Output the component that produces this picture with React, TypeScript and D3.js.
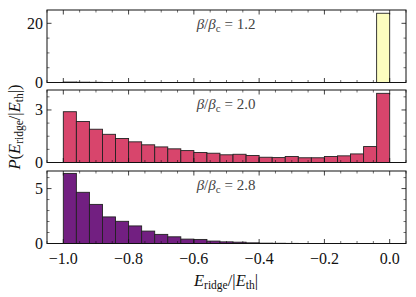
import React from 'react';
import * as d3 from 'd3';

// histogram bin edges of E_ridge/|E_th|
const BIN_EDGES = [
  -1.0, -0.96, -0.92, -0.88, -0.84, -0.8, -0.76, -0.72, -0.68, -0.64, -0.6, -0.56, -0.52,
  -0.48, -0.44, -0.4, -0.36, -0.32, -0.28, -0.24, -0.2, -0.16, -0.12, -0.08, -0.04, 0.0,
];

const P_12 = [
  0.15, 0.1, 0.06, 0, 0, 0, 0, 0, 0, 0, 0, 0, 0, 0, 0, 0, 0, 0, 0, 0, 0, 0, 0, 0, 23.4,
];
const P_20 = [
  2.9, 2.34, 1.9, 1.61, 1.37, 1.18, 1.01, 0.89, 0.78, 0.68, 0.57, 0.53, 0.44, 0.47, 0.4,
  0.3, 0.28, 0.34, 0.27, 0.27, 0.34, 0.38, 0.49, 0.91, 3.95,
];
const P_28 = [
  6.38, 4.66, 3.56, 2.42, 2.02, 1.6, 1.13, 0.83, 0.61, 0.4, 0.37, 0.22, 0.15, 0.12, 0.06,
  0.03, 0.02, 0.01, 0, 0, 0, 0, 0, 0, 0,
];

const X_TICKS = [-1.0, -0.8, -0.6, -0.4, -0.2, 0.0];

const PANELS = [
  { label: '1.2', values: P_12, ymax: 24.5, major: [0, 20], minorStep: 5, color: '#fcfdbf' },
  { label: '2.0', values: P_20, ymax: 4.14, major: [0, 3], minorStep: 0.75, color: '#d8456c' },
  { label: '2.8', values: P_28, ymax: 6.6, major: [0, 5], minorStep: 1, color: '#721f81' },
];

const W = 416;
const H = 297;
const LEFT = 47;
const RIGHT = 406;
const TOPS = [10, 90, 171];
const PANEL_H = 72.5;
const FONT = "'Liberation Serif', 'DejaVu Serif', serif";

const x = d3.scaleLinear().domain([-1.05, 0.05]).range([LEFT, RIGHT]);

function Panel({ p, top, last }: { p: (typeof PANELS)[number]; top: number; last: boolean }) {
  const bottom = top + PANEL_H;
  const y = d3.scaleLinear().domain([0, p.ymax]).range([bottom, top]);
  const minorY = d3.range(0, p.ymax, p.minorStep).filter((v) => !p.major.some((m) => Math.abs(m - v) < 1e-6));
  const minorX = d3.range(-1.05, 0.051, 0.05).filter((v) => !X_TICKS.some((m) => Math.abs(m - v) < 1e-6));
  return (
    <g>
      {p.values.map((v, i) =>
        v > 0 ? (
          <rect
            key={i}
            x={x(BIN_EDGES[i])}
            width={x(BIN_EDGES[i + 1]) - x(BIN_EDGES[i])}
            y={y(v)}
            height={bottom - y(v)}
            fill={p.color}
            stroke="#222"
            strokeWidth={0.9}
          />
        ) : null,
      )}
      <rect x={LEFT} y={top} width={RIGHT - LEFT} height={PANEL_H} fill="none" stroke="#111" strokeWidth={1} />
      {X_TICKS.map((t) => (
        <g key={t} stroke="#111" strokeWidth={0.8}>
          <line x1={x(t)} x2={x(t)} y1={bottom} y2={bottom - 4.5} />
          <line x1={x(t)} x2={x(t)} y1={top} y2={top + 4.5} />
        </g>
      ))}
      {minorX.map((t) => (
        <g key={t} stroke="#111" strokeWidth={0.6}>
          <line x1={x(t)} x2={x(t)} y1={bottom} y2={bottom - 2.5} />
          <line x1={x(t)} x2={x(t)} y1={top} y2={top + 2.5} />
        </g>
      ))}
      {p.major.map((t) => (
        <g key={t}>
          <line x1={LEFT} x2={LEFT + 4.5} y1={y(t)} y2={y(t)} stroke="#111" strokeWidth={0.8} />
          <line x1={RIGHT} x2={RIGHT - 4.5} y1={y(t)} y2={y(t)} stroke="#111" strokeWidth={0.8} />
          <text x={LEFT - 4} y={y(t)} dy="0.34em" textAnchor="end" fontSize={16} fill="#111">
            {t}
          </text>
        </g>
      ))}
      {minorY.map((t) => (
        <g key={t} stroke="#111" strokeWidth={0.6}>
          <line x1={LEFT} x2={LEFT + 2.5} y1={y(t)} y2={y(t)} />
          <line x1={RIGHT} x2={RIGHT - 2.5} y1={y(t)} y2={y(t)} />
        </g>
      ))}
      <text x={226} y={top + 19} textAnchor="middle" fontSize={15} fill="#444">
        <tspan fontStyle="italic">β</tspan>
        <tspan>/</tspan>
        <tspan fontStyle="italic">β</tspan>
        <tspan fontSize={11} dy={3}>c</tspan>
        <tspan dy={-3}> = {p.label}</tspan>
      </text>
      {last &&
        X_TICKS.map((t) => (
          <text key={t} x={x(t)} y={bottom + 20} textAnchor="middle" fontSize={16} fill="#111">
            {t === 0 ? '0.0' : '\u2212' + Math.abs(t).toFixed(1)}
          </text>
        ))}
    </g>
  );
}

export default function App() {
  return (
    <svg
      width={W}
      height={H}
      style={{ position: 'absolute', left: 0, top: 0, background: '#fff', fontFamily: FONT }}
    >
      {PANELS.map((p, i) => (
        <Panel key={p.label} p={p} top={TOPS[i]} last={i === PANELS.length - 1} />
      ))}
      <text x={226} y={286} textAnchor="middle" fontSize={16.5} fill="#111">
        <tspan fontStyle="italic">E</tspan>
        <tspan fontSize={11.5} dy={3}>ridge</tspan>
        <tspan dy={-3}>/|</tspan>
        <tspan fontStyle="italic">E</tspan>
        <tspan fontSize={11.5} dy={3}>th</tspan>
        <tspan dy={-3}>|</tspan>
      </text>
      <text transform="translate(20,127) rotate(-90)" textAnchor="middle" fontSize={16.5} fill="#111">
        <tspan fontStyle="italic">P</tspan>
        <tspan>(</tspan>
        <tspan fontStyle="italic">E</tspan>
        <tspan fontSize={11.5} dy={3}>ridge</tspan>
        <tspan dy={-3}>/|</tspan>
        <tspan fontStyle="italic">E</tspan>
        <tspan fontSize={11.5} dy={3}>th</tspan>
        <tspan dy={-3}>|)</tspan>
      </text>
    </svg>
  );
}
